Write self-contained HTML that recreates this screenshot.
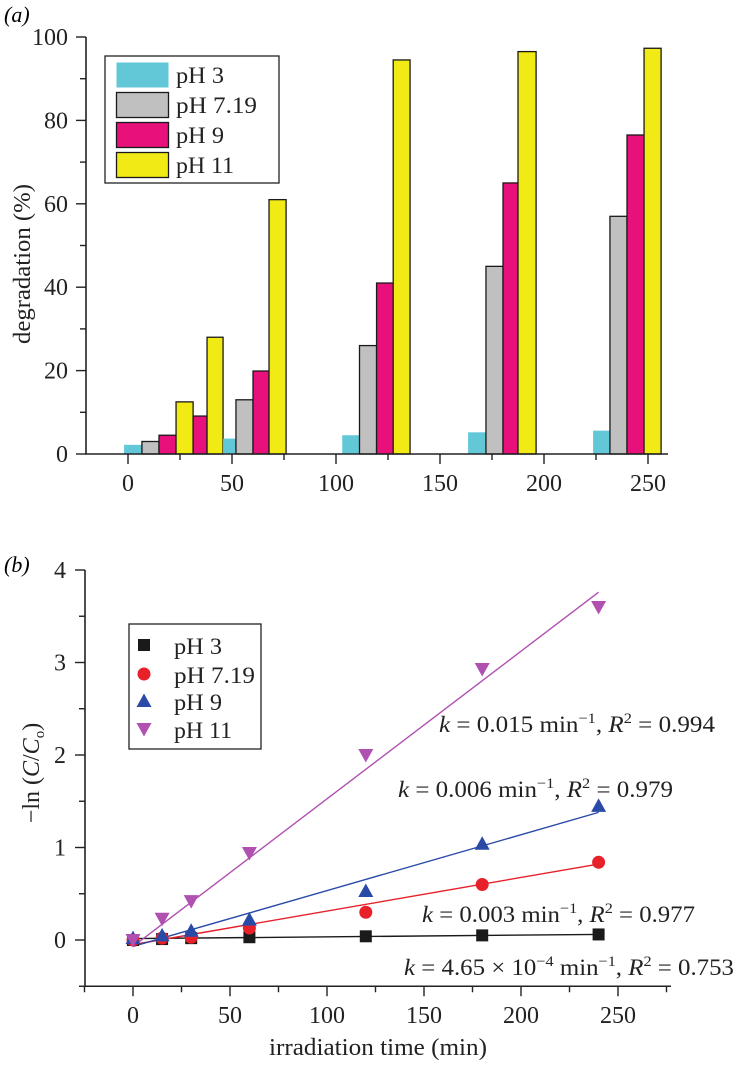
<!DOCTYPE html>
<html><head><meta charset="utf-8">
<style>
html,body{margin:0;padding:0;background:#fff;}
svg, svg text{font-family:"Liberation Serif","Times New Roman",Times,serif;}
</style></head>
<body>
<svg id="fig" width="734" height="1060" viewBox="0 0 734 1060" xmlns="http://www.w3.org/2000/svg" font-family="'Liberation Serif', 'Times New Roman', serif">
  <text x="4" y="22" font-size="22" font-style="italic">(a)</text>
  <text x="4" y="572" font-size="22" font-style="italic">(b)</text>
  <g id="chartA"></g>
  <g id="chartB"></g>
</svg>
<script>
// ---------- Chart A data ----------
const aSeriesNames = ["pH 3", "pH 7.19", "pH 9", "pH 11"];
const aSeriesColors = ["#62c8d8", "#c0c0c0", "#e8107a", "#f2ea14"];
const aBarSeries = [0,1,2,3,2,3,0,1,2,3, 0,1,2,3, 0,1,2,3, 0,1,2,3];
const aBarStart  = [-1.9,6.7,14.9,23.1,31.3,38.0,45.7,51.9,60.1,67.8, 103.0,111.3,119.5,127.5, 163.5,172.1,180.3,187.5, 223.6,231.7,239.9,248.1];
const aBarEnd    = [6.7,14.9,23.1,31.3,38.0,45.7,51.9,60.1,67.8,76.0, 111.3,119.5,127.5,135.6, 172.1,180.3,187.5,196.2, 231.7,239.9,248.1,256.3];
const aBarValues = [2.2,3.0,4.5,12.5,9.1,28.0,3.7,13.0,19.9,61.0, 4.5,26.0,41.0,94.5, 5.2,45.0,65.0,96.5, 5.6,57.0,76.5,97.3];
const aXTicks = [0,50,100,150,200,250];
const aYTicks = [0,20,40,60,80,100];

// ---------- Chart B data ----------
const bTimes = [0,15,30,60,120,180,240];
const bNames = ["pH 3", "pH 7.19", "pH 9", "pH 11"];
const bColors = ["#1a1a1a", "#e8202a", "#2a4aa8", "#b050b0"];
const bPH3  = [0.0,0.01,0.02,0.03,0.04,0.05,0.06];
const bPH7  = [0.0,0.02,0.03,0.13,0.30,0.60,0.84];
const bPH9  = [0.02,0.05,0.10,0.22,0.53,1.04,1.45];
const bPH11 = [0.0,0.23,0.42,0.94,2.00,2.93,3.60];
const bFitIntercept = [0.015,-0.05,-0.07,-0.07];
const bFitSlope = [0.00019,0.00363,0.00604,0.01596];
const bXTicks = [0,50,100,150,200,250];
const bYTicks = [0,1,2,3,4];
const bAnnot = [
  {k:"0.015 min", r:"0.994"},
  {k:"0.006 min", r:"0.979"},
  {k:"0.003 min", r:"0.977"},
  {k:"4.65 × 10", r:"0.753"}
];

const NS = "http://www.w3.org/2000/svg";
function mk(tag, attrs, parent){
  const e = document.createElementNS(NS, tag);
  for (const k in attrs) e.setAttribute(k, attrs[k]);
  parent.appendChild(e);
  return e;
}

// ===== Chart A =====
(function(){
  const g = document.getElementById('chartA');
  const xA = v => 128 + v*2.08;
  const yA = v => 454 - v*4.17;
  for (let i=0;i<aBarValues.length;i++){
    const s = aBarSeries[i];
    const x0 = xA(aBarStart[i]), x1 = xA(aBarEnd[i]);
    const r = mk('rect',{x:x0,y:yA(aBarValues[i]),width:x1-x0,height:yA(0)-yA(aBarValues[i]),
      fill:aSeriesColors[s], stroke: s===0?'none':'#1a1a1a','stroke-width':1.3}, g);
    
    
  }
  const ax = mk('path',{d:`M86 ${yA(100)} V454 H668`,fill:'none',stroke:'#222','stroke-width':1.6},g);
  
  
  for (let v=0; v<=100; v+=10){
    const major = v%20===0;
    mk('line',{x1:major?76:80,x2:86,y1:yA(v),y2:yA(v),stroke:'#222','stroke-width':1.4},g);
  }
  aYTicks.forEach(v=>{
    const t = mk('text',{x:68,y:yA(v)+8,'font-size':24,'text-anchor':'end',fill:'#222'},g);
    t.textContent = v;
    
    
  });
  for (let v=0; v<=250; v+=25){
    const major = v%50===0;
    mk('line',{x1:xA(v),x2:xA(v),y1:454,y2:major?464:460,stroke:'#222','stroke-width':1.4},g);
  }
  aXTicks.forEach(v=>{
    const t = mk('text',{x:xA(v),y:491,'font-size':24,'text-anchor':'middle',fill:'#222'},g);
    t.textContent = v;
    
    
  });
  const yt = mk('text',{x:0,y:0,'font-size':24,'text-anchor':'middle',fill:'#222',transform:'translate(30,264) rotate(-90)',textLength:160,lengthAdjust:'spacingAndGlyphs'},g);
  yt.textContent = 'degradation (%)';
  
  
  const lg = mk('g',{},g);
  
  
  mk('rect',{x:105,y:56,width:174,height:127,fill:'#fff',stroke:'#222','stroke-width':1.3},lg);
  const rowsY = [62,92,122,152];
  const lw = [48,81,48,58];
  aSeriesNames.forEach((n,i)=>{
    const e = mk('g',{},lg);
    
    
    mk('rect',{x:116.5,y:rowsY[i]+0.5,width:52,height:25,fill:aSeriesColors[i],stroke:i===0?'none':'#1a1a1a','stroke-width':1.3},e);
    const t = mk('text',{x:176,y:rowsY[i]+21,'font-size':23,fill:'#222',textLength:lw[i],lengthAdjust:'spacingAndGlyphs'},e);
    t.textContent = n;
  });
})();

// ===== Chart B =====
(function(){
  const g = document.getElementById('chartB');
  const xB = v => 133 + v*1.94;
  const yB = v => 940 - v*92.5;
  const ax = mk('path',{d:`M85 ${yB(4)} V${yB(-0.5)} H671`,fill:'none',stroke:'#222','stroke-width':1.6},g);
  
  
  for (let v=-0.5; v<=4.001; v+=0.5){
    const major = Math.abs(v-Math.round(v))<1e-6;
    mk('line',{x1:major?75:79,x2:85,y1:yB(v),y2:yB(v),stroke:'#222','stroke-width':1.4},g);
  }
  bYTicks.forEach(v=>{
    const t = mk('text',{x:66,y:yB(v)+8,'font-size':24,'text-anchor':'end',fill:'#222'},g);
    t.textContent = v;
    
    
  });
  for (let v=-25; v<=275; v+=25){
    const major = v%50===0;
    mk('line',{x1:xB(v),x2:xB(v),y1:yB(-0.5),y2:yB(-0.5)+(major?10:6),stroke:'#222','stroke-width':1.4},g);
  }
  bXTicks.forEach(v=>{
    const t = mk('text',{x:xB(v),y:1023,'font-size':24,'text-anchor':'middle',fill:'#222'},g);
    t.textContent = v;
    
    
  });
  const xt = mk('text',{x:378,y:1055,'font-size':24,'text-anchor':'middle',fill:'#222',textLength:218,lengthAdjust:'spacingAndGlyphs'},g);
  xt.textContent = 'irradiation time (min)';
  
  
  const yt = mk('text',{x:0,y:0,'font-size':24,'text-anchor':'middle',fill:'#222',transform:'translate(39,773) rotate(-90)'},g);
  yt.innerHTML = '−ln (<tspan font-style="italic">C</tspan>/<tspan font-style="italic">C</tspan><tspan font-size="15" dy="5">o</tspan><tspan dy="-5">)</tspan>';
  
  

  for (let i=0;i<4;i++){
    const l = mk('line',{x1:xB(0),y1:yB(bFitIntercept[i]),x2:xB(240),y2:yB(bFitIntercept[i]+bFitSlope[i]*240),stroke:bColors[i],'stroke-width':1.4},g);
    
    
  }
  function marker(parent, i, cx, cy){
    let m;
    if (i===0) m = mk('rect',{x:cx-6,y:cy-6,width:12,height:12,fill:bColors[0]},parent);
    else if (i===1) m = mk('circle',{cx:cx,cy:cy,r:6.5,fill:bColors[1]},parent);
    else if (i===2) m = mk('polygon',{points:`${cx-7.5},${cy+6} ${cx+7.5},${cy+6} ${cx},${cy-7.5}`,fill:bColors[2]},parent);
    else m = mk('polygon',{points:`${cx-7.5},${cy-6} ${cx+7.5},${cy-6} ${cx},${cy+7.5}`,fill:bColors[3]},parent);
    return m;
  }
  const series = [bPH3,bPH7,bPH9,bPH11];
  series.forEach((arr,i)=>{
    arr.forEach((v,j)=>{
      const m = marker(g,i,xB(bTimes[j]),yB(v));
      
      
    });
  });

  const ann = [
    {x:439,y:732,w:276},{x:398,y:797,w:275},{x:422,y:922,w:273},{x:404,y:975,w:330}
  ];
  bAnnot.forEach((a,i)=>{
    const t = mk('text',{x:ann[i].x,y:ann[i].y,'font-size':23,fill:'#222',textLength:ann[i].w,lengthAdjust:'spacingAndGlyphs'},g);
    if (i===3){
      t.innerHTML = '<tspan font-style="italic">k</tspan> = 4.65 × 10<tspan font-size="15" dy="-9">−4</tspan><tspan dy="9"> min</tspan><tspan font-size="15" dy="-9">−1</tspan><tspan dy="9">, </tspan><tspan font-style="italic">R</tspan><tspan font-size="15" dy="-9">2</tspan><tspan dy="9"> = ' + a.r + '</tspan>';
    } else {
      t.innerHTML = '<tspan font-style="italic">k</tspan> = ' + a.k + '<tspan font-size="15" dy="-9">−1</tspan><tspan dy="9">, </tspan><tspan font-style="italic">R</tspan><tspan font-size="15" dy="-9">2</tspan><tspan dy="9"> = ' + a.r + '</tspan>';
    }
    
    
  });

  const lg = mk('g',{},g);
  
  
  mk('rect',{x:129,y:624,width:132,height:125,fill:'#fff',stroke:'#222','stroke-width':1.3},lg);
  const rowsY = [647,676,703,731];
  const lw = [48,81,48,58];
  bNames.forEach((n,i)=>{
    const e = mk('g',{},lg);
    
    
    marker(e,i,144,rowsY[i]-2);
    const t = mk('text',{x:174,y:rowsY[i]+7,'font-size':23,fill:'#222',textLength:lw[i],lengthAdjust:'spacingAndGlyphs'},e);
    t.textContent = n;
  });
})();
</script>
</body></html>
